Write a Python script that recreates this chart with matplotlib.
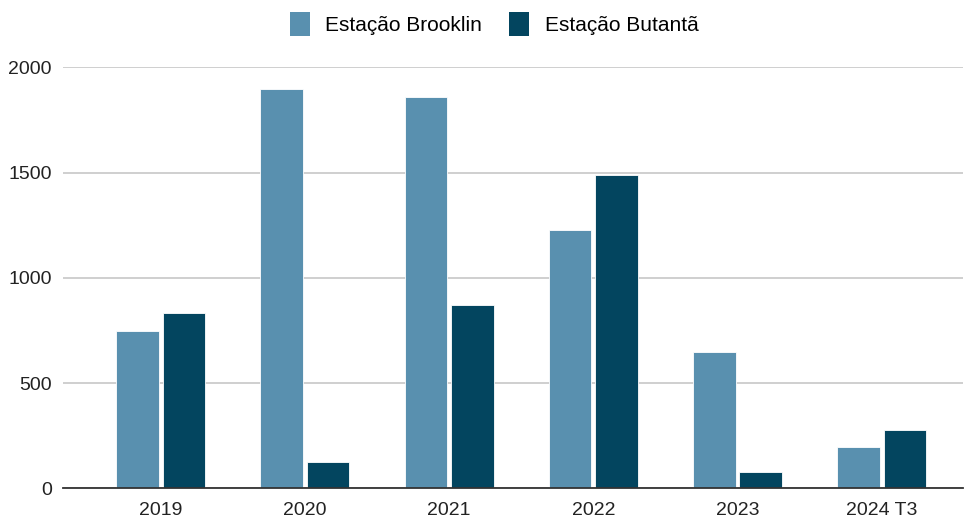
import numpy as np
import matplotlib.pyplot as plt
from matplotlib.patches import Patch

plt.rcParams['font.family'] = ['Liberation Sans', 'DejaVu Sans']

# Totals per year for each station
anos = ['2019', '2020', '2021', '2022', '2023', '2024 T3']
brooklin = [745, 1897, 1857, 1226, 648, 194]
butanta = [834, 126, 870, 1488, 78, 276]

cor_brooklin = '#5990AF'
cor_butanta = '#03455F'

fig = plt.figure(figsize=(9.65, 5.21), dpi=100)
ax = fig.add_axes([0.0653, 0.0628, 0.9327, 0.808])

x = np.arange(len(anos))
w = 0.295
ax.bar(x - 0.161, brooklin, w, color=cor_brooklin, edgecolor='white', linewidth=0.6, zorder=3)
ax.bar(x + 0.161, butanta, w, color=cor_butanta, edgecolor='white', linewidth=0.6, zorder=3)

ax.set_xlim(-0.677, 5.564)
ax.set_ylim(0, 2000)
ax.set_yticks([0, 500, 1000, 1500, 2000])
ax.set_xticks(x)
ax.set_xticklabels(anos)

ax.grid(axis='y', color='#cccccc', linewidth=1.3, zorder=0)
for s in ['top', 'right', 'left']:
    ax.spines[s].set_visible(False)
ax.spines['bottom'].set_color('#333333')
ax.spines['bottom'].set_linewidth(1.3)
ax.spines['bottom'].set_zorder(4)
ax.tick_params(axis='both', length=0, labelsize=14, colors='#222222')
ax.tick_params(axis='x', pad=10)
ax.tick_params(axis='y', pad=8)

handles = [Patch(facecolor=cor_brooklin, label='Estação Brooklin'),
           Patch(facecolor=cor_butanta, label='Estação Butantã')]
fig.legend(handles=handles, loc='upper center', bbox_to_anchor=(0.512, 1.012), ncol=2,
           frameon=False, fontsize=15, handlelength=0.95, handleheight=1.35,
           handletextpad=0.75, columnspacing=1.3)

fig.savefig('out.png', dpi=100)
